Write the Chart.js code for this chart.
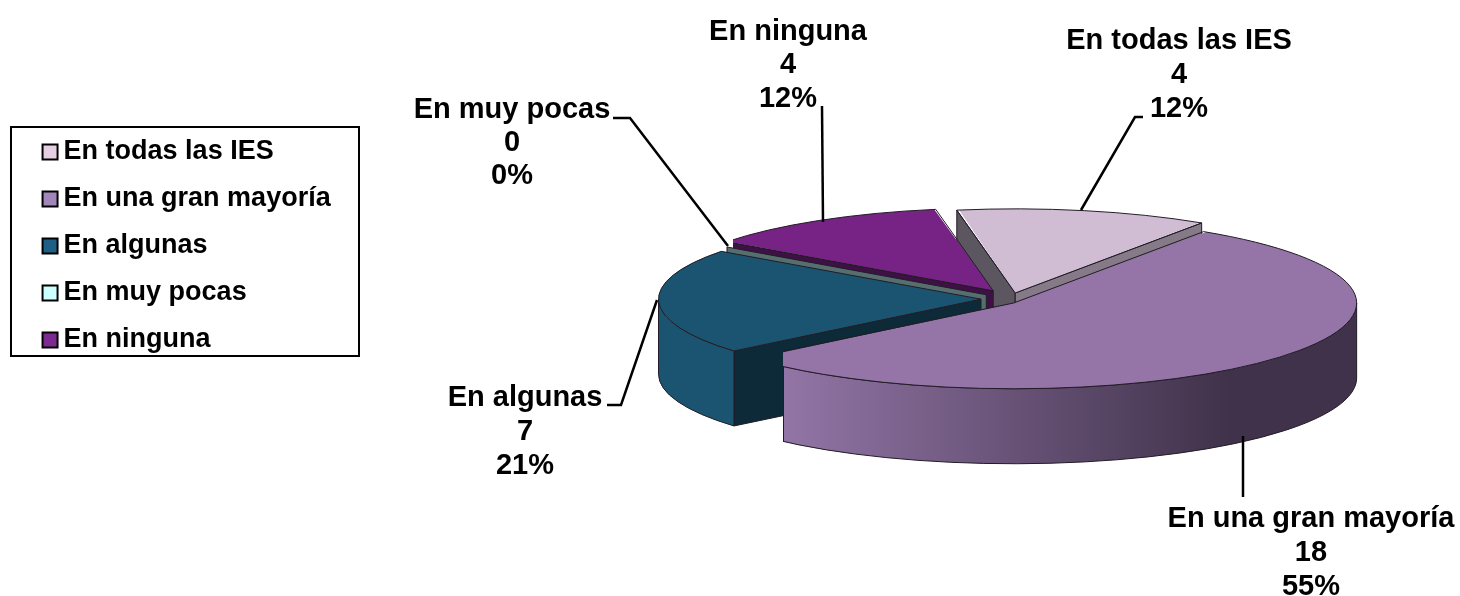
<!DOCTYPE html>
<html>
<head>
<meta charset="utf-8">
<title>Pie</title>
<script src="https://cdn.jsdelivr.net/npm/chart.js@4"></script>
<style>
  html, body { margin: 0; padding: 0; background: #fff; }
  canvas { display: block; }
</style>
</head>
<body>
<canvas id="pieChart" width="1460" height="596"></canvas>
<script>
const categories = ['En todas las IES', 'En una gran mayoría', 'En algunas', 'En muy pocas', 'En ninguna'];
const values = [4, 18, 7, 0, 4];
const percents = ['12%', '55%', '21%', '0%', '12%'];

const sliceColors = ['#d0bdd3', '#9575a8', '#1b5471', '#5a7272', '#772285'];
const swatchColors = ['#e6cfe3', '#a285ba', '#1f5f85', '#ccffff', '#7c2a90'];
const cutColors = ['#5c5660', '#867a88', '#0d2a38', '#566e6e', '#3e1045'];
const endCutColors = ['#867a88', '#40324a', '#0d2a38', '#566e6e', '#3e1045'];
const explode = [188, 84, 72, 88, 116];
const nudge = [[5.6, 4.5], [-2, -0.5], [-1, -1], [4, -2], [8.5, -3]];  // perspective fix per slice
const trimLeft = [0, 783, 0, 0, 733];                                   // the near rim is shorter in perspective

const flat = 0.25;    // how much the disc is squashed
const depth = 75;     // height of the disc
const edge = '#221c26';
const labelFont = 'bold 29px "Liberation Sans", Arial, sans-serif';

// centre of each data label, and its leader line
const labelSpots = [
    { x: 1179, y: 41, gap: 34, line: [[1081, 210], [1135, 117], [1143, 117]] },
    { x: 1311, y: 519, gap: 34, line: [[1243, 436], [1243, 497]] },
    { x: 525, y: 398, gap: 34, line: [[657, 300], [621, 405], [607, 405]] },
    { x: 512, y: 110, gap: 33, line: [[728, 246], [630, 118], [613, 118]] },
    { x: 788, y: 31.5, gap: 33.5, line: [[823, 222], [822, 106]] }
];

// same geometry the arc element uses when it draws itself, squashed
function shape (arc, i) {
    const off = (arc.options.offset || 0) / 4;
    const c = arc.circumference;
    const fix = c > 0 ? 1 - Math.sin(Math.min(Math.PI, c)) : 0;
    const mid = (arc.startAngle + arc.endAngle) / 2;
    return {
        x: arc.x + Math.cos(mid) * off + nudge[i][0],
        y: arc.y + Math.sin(mid) * off * flat + nudge[i][1],
        r: arc.outerRadius + off * fix,
        start: arc.startAngle,
        end: arc.endAngle
    };
}

function trim (ctx, i) {
    ctx.beginPath();
    ctx.rect(trimLeft[i], -4000, 3000, 8000);
    ctx.clip();
}

function cutWall (ctx, s, angle, color) {
    const px = s.x + Math.cos(angle) * s.r;
    const py = s.y + Math.sin(angle) * s.r * flat;
    ctx.beginPath();
    ctx.moveTo(s.x, s.y);
    ctx.lineTo(px, py);
    ctx.lineTo(px, py + depth);
    ctx.lineTo(s.x, s.y + depth);
    ctx.closePath();
    ctx.fillStyle = color;
    ctx.fill();
    ctx.stroke();
}

function outerWall (ctx, s, fill) {
    const lo = Math.max(s.start, 0);
    const hi = Math.min(s.end, Math.PI);
    if (lo >= hi) return;
    ctx.beginPath();
    ctx.ellipse(s.x, s.y, s.r, s.r * flat, 0, lo, hi);
    ctx.ellipse(s.x, s.y + depth, s.r, s.r * flat, 0, hi, lo, true);
    ctx.closePath();
    ctx.fillStyle = fill;
    ctx.fill();
    ctx.stroke();
}

const pie3d = {
    id: 'pie3d',
    afterUpdate (chart) {
        chart.getDatasetMeta(0).data.forEach((arc, i) => {
            arc.draw = function (c) {
                c.save();
                trim(c, i);
                c.translate(nudge[i][0], nudge[i][1] / flat);
                Chart.ArcElement.prototype.draw.call(this, c);
                c.restore();
            };
        });
    },
    beforeDraw (chart) {
        // move the legend to its frame
        const legend = chart.legend;
        const h = legend.height;
        legend.left = 30;
        legend.top = 118.5;
        legend.bottom = legend.top + h;

        const ctx = chart.ctx;
        ctx.save();
        ctx.strokeStyle = '#000';
        ctx.lineWidth = 2;
        ctx.strokeRect(11, 127, 348, 229);
        ctx.restore();
    },
    beforeDatasetsDraw (chart) {
        const ctx = chart.ctx;
        const arcs = chart.getDatasetMeta(0).data;

        ctx.save();
        ctx.strokeStyle = edge;
        ctx.lineWidth = 1;
        // back to front
        [0, 4, 3, 2, 1].forEach(i => {
            const s = shape(arcs[i], i);
            ctx.save();
            trim(ctx, i);
            if (i !== 1) {
                cutWall(ctx, s, s.start, cutColors[i]);
                if (i === 0) cutWall(ctx, s, s.end, endCutColors[i]);
            }
            let fill = sliceColors[i];
            if (i === 1) {
                const grad = ctx.createLinearGradient(783, 0, 1230, 0);
                grad.addColorStop(0, '#9275a6');
                grad.addColorStop(1, '#40324a');
                fill = grad;
            }
            outerWall(ctx, s, fill);
            ctx.restore();
            if (i === 1) {
                const dx = trimLeft[1] - s.x;
                const rimY = s.y + flat * Math.sqrt(s.r * s.r - dx * dx);
                ctx.beginPath();
                ctx.moveTo(trimLeft[1] + 0.5, rimY);
                ctx.lineTo(trimLeft[1] + 0.5, rimY + depth);
                ctx.stroke();
            }
        });
        ctx.restore();

        // squash the arcs the chart draws
        const cx = arcs[0].x;
        const cy = arcs[0].y;
        ctx.save();
        ctx.translate(cx, cy);
        ctx.scale(1, flat);
        ctx.translate(-cx, -cy);
    },
    afterDatasetsDraw (chart) {
        const ctx = chart.ctx;
        ctx.restore();

        const arcs = chart.getDatasetMeta(0).data;
        ctx.save();
        ctx.strokeStyle = edge;
        ctx.lineWidth = 1;
        arcs.forEach((arc, i) => {
            if (arc.circumference === 0) return;
            const s = shape(arc, i);
            ctx.save();
            trim(ctx, i);
            ctx.beginPath();
            ctx.moveTo(s.x, s.y);
            ctx.ellipse(s.x, s.y, s.r, s.r * flat, 0, s.start, s.end);
            ctx.closePath();
            ctx.stroke();
            ctx.restore();
        });

        ctx.strokeStyle = '#000';
        ctx.lineWidth = 2.5;
        labelSpots.forEach(spot => {
            ctx.beginPath();
            spot.line.forEach((p, n) => n ? ctx.lineTo(p[0], p[1]) : ctx.moveTo(p[0], p[1]));
            ctx.stroke();
        });

        ctx.fillStyle = '#000';
        ctx.font = labelFont;
        ctx.textAlign = 'center';
        ctx.textBaseline = 'middle';
        labelSpots.forEach((spot, i) => {
            ctx.fillText(categories[i], spot.x, spot.y);
            ctx.fillText(String(values[i]), spot.x, spot.y + spot.gap);
            ctx.fillText(percents[i], spot.x, spot.y + spot.gap * 2);
        });
        ctx.restore();
    }
};

new Chart(document.getElementById('pieChart'), {
    type: 'pie',
    data: {
        labels: categories,
        datasets: [{
            data: values,
            backgroundColor: sliceColors,
            borderWidth: 0,
            offset: explode
        }]
    },
    plugins: [pie3d],
    options: {
        responsive: false,
        animation: false,
        rotation: -10,
        radius: 322,
        layout: { padding: { left: 540, top: 4 } },
        plugins: {
            tooltip: { enabled: false },
            legend: {
                position: 'chartArea',
                align: 'start',
                labels: {
                    color: '#000',
                    font: { family: '"Liberation Sans", Arial, sans-serif', size: 27, weight: 'bold' },
                    padding: 20,
                    usePointStyle: true,
                    pointStyle: 'rect',
                    boxWidth: 0.1,
                    boxHeight: 15,
                    generateLabels (chart) {
                        const items = Chart.overrides.pie.plugins.legend.labels.generateLabels(chart);
                        items.forEach((item, i) => {
                            item.fillStyle = swatchColors[i];
                            item.strokeStyle = '#000';
                            item.lineWidth = 2;
                            item.hidden = false;
                        });
                        return items;
                    }
                }
            }
        }
    }
});
</script>
</body>
</html>
